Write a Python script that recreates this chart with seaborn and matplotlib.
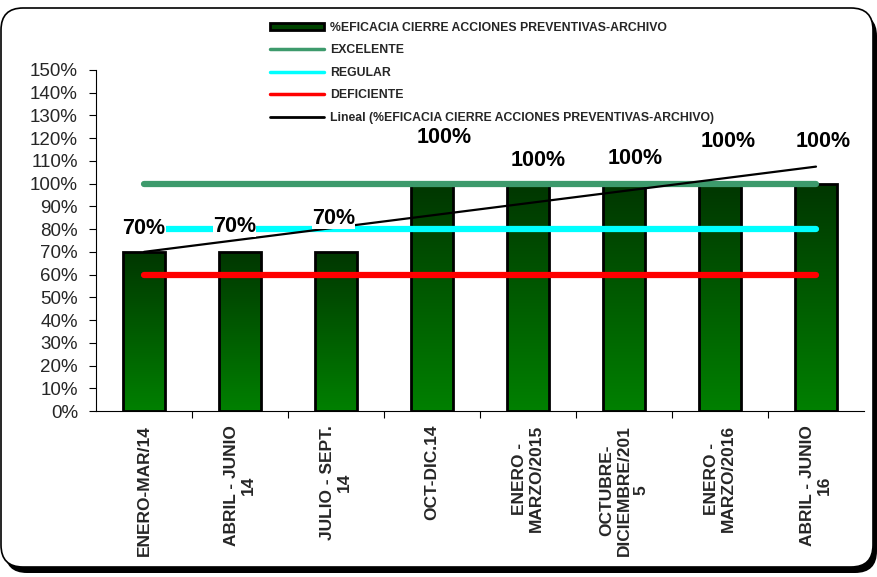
import numpy as np
import matplotlib
matplotlib.use("Agg")
import matplotlib.pyplot as plt
import seaborn as sns
from matplotlib.patches import FancyBboxPatch, Patch
from matplotlib.lines import Line2D
from matplotlib.colors import LinearSegmentedColormap

# ---- data ----
periodos = [
    "ENERO-MAR/14",
    "ABRIL - JUNIO\n14",
    "JULIO - SEPT.\n14",
    "OCT-DIC.14",
    "ENERO -\nMARZO/2015",
    "OCTUBRE-\nDICIEMBRE/201\n5",
    "ENERO -\nMARZO/2016",
    "ABRIL - JUNIO\n16",
]
eficacia = [70, 70, 70, 100, 100, 100, 100, 100]
umbral_nombres = ["EXCELENTE", "REGULAR", "DEFICIENTE"]
umbral_valores = [100, 80, 60]
serie_nombre = "%EFICACIA CIERRE ACCIONES PREVENTIVAS-ARCHIVO"
y_ticks = list(range(0, 151, 10))

# label placement (offset from bar top, in points)
label_offsets = [(0, 17), (-4, 18), (-2, 24), (9, 33), (7, 17), (8, 18), (6, 30), (5, 30)]

umbral_colores = ["#3d9a6c", "#00ffff", "#ff0000"]

sns.set_theme(style="white")
plt.rcParams["font.family"] = ["Liberation Sans", "DejaVu Sans"]

fig = plt.figure(figsize=(8.78, 5.77), dpi=100)

# background frame with drop shadow
bg = fig.add_axes([0, 0, 1, 1], zorder=-10)
bg.set_xlim(0, 878)
bg.set_ylim(577, 0)
bg.axis("off")
shadow = FancyBboxPatch((5, 14), 872, 559, boxstyle="round,pad=0,rounding_size=22",
                        facecolor="black", edgecolor="black", lw=0)
frame = FancyBboxPatch((1, 8), 872, 559, boxstyle="round,pad=0,rounding_size=22",
                       facecolor="white", edgecolor="black", lw=1.2)
bg.add_patch(shadow)
bg.add_patch(frame)

ax = fig.add_axes([96 / 878, 1 - 411 / 577, 768 / 878, 341 / 577])
ax.patch.set_alpha(0)

sns.barplot(x=periodos, y=eficacia, ax=ax, width=0.44, color="#006400",
            edgecolor="black", linewidth=2, zorder=2)

# vertical gradient fill for each bar
grad = LinearSegmentedColormap.from_list("g", ["#008000", "#003600"])
for p in ax.patches:
    x0, y0 = p.get_x(), p.get_y()
    w, h = p.get_width(), p.get_height()
    img = ax.imshow(np.linspace(0, 1, 256).reshape(-1, 1), cmap=grad, aspect="auto",
                    extent=(x0, x0 + w, y0, y0 + h), origin="lower", zorder=2)
    img.set_clip_path(p)
    p.set_facecolor("none")
    p.set_zorder(3)

xs = np.arange(len(eficacia))

# threshold lines
for nombre, val, col in zip(umbral_nombres, umbral_valores, umbral_colores):
    ax.plot([xs[0], xs[-1]], [val, val], color=col, lw=4.5, solid_capstyle="round", zorder=4)

# linear trend
coef = np.polyfit(xs + 1, eficacia, 1)
tendencia = np.polyval(coef, xs + 1)
ax.plot([xs[0], xs[-1]], [tendencia[0], tendencia[-1]], color="black", lw=1.6, zorder=5)

# value labels
for x, v, (dx, dy) in zip(xs, eficacia, label_offsets):
    ax.annotate(f"{v}%", (x, v), xytext=(dx, dy), textcoords="offset points",
                ha="center", va="center", fontsize=15.5, fontweight="bold", color="black",
                bbox=dict(boxstyle="square,pad=0.0", fc="white", ec="none"), zorder=6)

ax.set_xlim(-0.5, len(eficacia) - 0.5)
ax.set_ylim(0, 150)
ax.set_yticks(y_ticks)
ax.set_yticklabels([f"{t}%" for t in y_ticks], fontsize=13.5)
ax.set_xticks(xs)
ax.set_xticklabels(periodos, rotation=90, fontsize=12.5, fontweight="bold",
                   ha="center", va="top", multialignment="center")
ax.tick_params(axis="x", which="major", length=0, pad=10)
ax.set_xticks(np.arange(0.5, len(eficacia) - 0.5), minor=True)
ax.tick_params(axis="x", which="minor", length=5, width=0.8, color="black", direction="out")
ax.tick_params(axis="y", length=5, width=0.8, color="black", direction="out", pad=8)
ax.tick_params(left=True, which="major", axis="y")
ax.tick_params(bottom=True, which="minor", axis="x")
for s in ["top", "right"]:
    ax.spines[s].set_visible(False)
for s in ["left", "bottom"]:
    ax.spines[s].set_color("black")
    ax.spines[s].set_linewidth(0.8)
ax.grid(False)

# legend
handles = [Patch(facecolor="#004400", edgecolor="black", lw=2)]
handles += [Line2D([], [], color=c, lw=2.5) for c in umbral_colores]
handles += [Line2D([], [], color="black", lw=2)]
labels = [serie_nombre] + umbral_nombres + [f"Lineal ({serie_nombre})"]
leg = fig.legend(handles, labels, loc="upper left", bbox_to_anchor=(270 / 878, 1 - 22 / 577),
                 frameon=False, prop={"size": 8.8, "weight": "bold"},
                 handlelength=4.4, handleheight=0.5, handletextpad=0.5,
                 labelspacing=0.85, borderpad=0, borderaxespad=0)

fig.savefig("out.png", dpi=100)
